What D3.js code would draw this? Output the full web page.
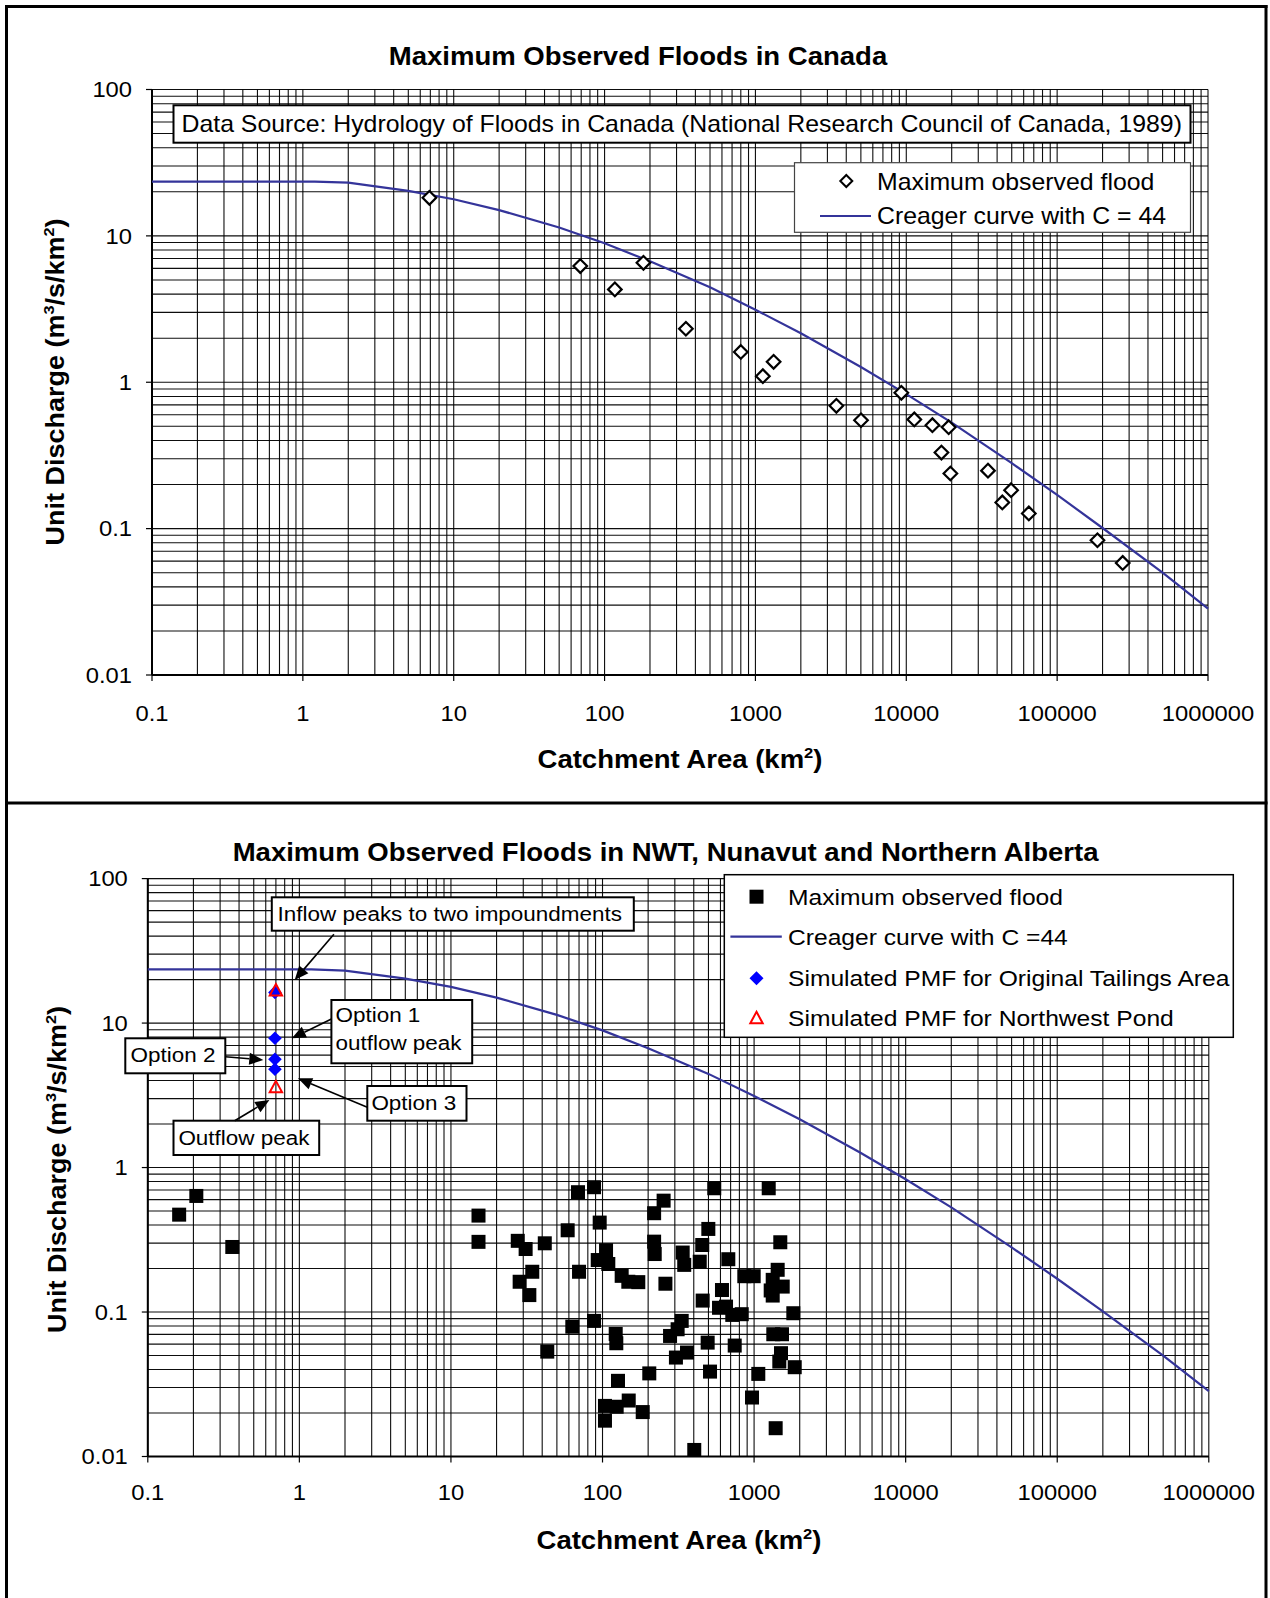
<!DOCTYPE html>
<html>
<head>
<meta charset="utf-8">
<script src="https://cdnjs.cloudflare.com/ajax/libs/d3/7.8.5/d3.min.js"></script>
<style>
    body { margin: 0; background: #fff; }
    text { font-family: "Liberation Sans", Arial, sans-serif; fill: #000; }
</style>
</head>
<body>
<div id="container"></div>
<script>
// values

// Creager curve with C = 44 (same curve on both panels)
var creagerArea = [0.1, 1.2, 2, 5, 10, 20, 50, 100, 200, 500, 1000, 2000, 5000, 10000, 20000, 50000, 100000, 200000, 500000, 1000000];
var creagerQ = [23.5, 23.5, 23.1, 20.3, 17.8, 15.0, 11.4, 8.9, 6.7, 4.45, 3.13, 2.16, 1.27, 0.83, 0.53, 0.28, 0.17, 0.101, 0.050, 0.0284];

// maximum observed floods in Canada
var canadaArea = [6.9, 69, 117, 181, 346, 800, 1120, 1320, 3440, 5010, 9270, 11300, 14900, 19100, 17100, 19600, 34800, 49500, 43300, 64900, 185000, 272000];
var canadaQ = [18.2, 6.22, 4.31, 6.55, 2.32, 1.61, 1.10, 1.38, 0.69, 0.55, 0.847, 0.557, 0.509, 0.493, 0.331, 0.238, 0.249, 0.183, 0.151, 0.127, 0.0833, 0.0583];

// maximum observed floods in NWT, Nunavut and Northern Alberta
var nwtArea = [0.161, 0.209, 0.361, 15.2, 15.2, 68.9, 87.9, 95.8, 58.9, 27.6, 31.1, 41.6, 105.5, 93.0, 109.2, 133.8, 148, 172.2, 34.4, 70.0,
    28.4, 32.9, 63.2, 87.9, 122.2, 123.3, 43.2, 126.5, 103.8, 124, 148.9, 103.8, 184.2, 203.5, 546, 1249, 253, 219, 499, 219,
    221, 338, 346, 455, 438, 676, 1489, 260, 862, 994, 1431, 1327, 1545, 1287, 1327, 614, 458, 587, 653, 718,
    829, 1815, 333, 313, 279, 494, 745, 1339, 1528, 1505, 1467, 1854, 361, 305, 512, 1066, 969, 1388, 403];
var nwtQ = [0.472, 0.636, 0.282, 0.465, 0.306, 0.675, 0.731, 0.416, 0.368, 0.311, 0.273, 0.299, 0.268, 0.229, 0.215, 0.178, 0.162, 0.161, 0.190, 0.190,
    0.162, 0.131, 0.0792, 0.0868, 0.0705, 0.0608, 0.0532, 0.0334, 0.0224, 0.0221, 0.0244, 0.0177, 0.0203, 0.0376, 0.719, 0.719, 0.590, 0.483, 0.376, 0.307,
    0.252, 0.258, 0.212, 0.291, 0.223, 0.232, 0.304, 0.157, 0.177, 0.177, 0.196, 0.167, 0.150, 0.141, 0.130, 0.142, 0.120, 0.107, 0.109, 0.0955,
    0.0966, 0.0981, 0.0868, 0.076, 0.0683, 0.0614, 0.0586, 0.0702, 0.0702, 0.0519, 0.0454, 0.0415, 0.0524, 0.0484, 0.0387, 0.0373, 0.0256, 0.0157, 0.0111];

// simulated PMF
var pmfOrigArea = [0.69, 0.69, 0.69, 0.69];
var pmfOrigQ = [16.3, 7.85, 5.62, 4.79];
var pmfPondArea = [0.70, 0.70];
var pmfPondQ = [16.8, 3.59];

// tick labels
var xTicks = [0.1, 1, 10, 100, 1000, 10000, 100000, 1000000];
var yTicks = [0.01, 0.1, 1, 10, 100];

var SX = 1.08;          // text in the picture is a little wide
var curveColor = "#34349a";

var svg = d3.select("#container").append("svg")
    .attr("width", 1270)
    .attr("height", 1598)
    .style("display", "block");

svg.append("rect").attr("width", 1270).attr("height", 1598).attr("fill", "#fff");

// text with horizontal stretch
function addText(g, x, y, size, weight, anchor) {
    return g.append("text")
        .attr("transform", "translate(" + x + "," + y + ") scale(" + SX + ",1)")
        .attr("text-anchor", anchor || "start")
        .style("font-size", size + "px")
        .style("font-weight", weight || "normal");
};

// text with superscripts, parts = [[text, isSup], ...]
function addParts(t, parts, size) {
    var shift = size * 0.4;
    var raised = false;
    parts.forEach(function(p) {
        var ts = t.append("tspan").text(p[0]);
        if (p[1]) {
            ts.attr("dy", -shift).style("font-size", (size * 0.6) + "px");
            raised = true;
        }
        else if (raised) {
            ts.attr("dy", shift);
            raised = false;
        };
    });
};

// draw grid, axes, tick labels, titles and the Creager curve of one panel
function drawPanel(p) {
    var g = svg.append("g");

    var x = d3.scaleLog().domain([0.1, 1000000]).range([p.left, p.right]);
    var y = d3.scaleLog().domain([0.01, 100]).range([p.bottom, p.top]);

    // minor and major grid
    var xGrid = [], yGrid = [];
    for (var d = -1; d < 6; d++) {
        for (var k = 1; k < 10; k++) xGrid.push(k * Math.pow(10, d));
    };
    xGrid.push(1000000);
    for (var e = -2; e < 2; e++) {
        for (var m = 1; m < 10; m++) yGrid.push(m * Math.pow(10, e));
    };
    yGrid.push(100);

    g.selectAll("line.vgrid")
        .data(xGrid)
        .enter().append("line")
        .attr("x1", function(v) { return x(v); })
        .attr("x2", function(v) { return x(v); })
        .attr("y1", p.top)
        .attr("y2", p.bottom)
        .attr("stroke", "#000")
        .attr("stroke-opacity", 0.95)
        .attr("stroke-width", 1.1);

    g.selectAll("line.hgrid")
        .data(yGrid)
        .enter().append("line")
        .attr("x1", p.left)
        .attr("x2", p.right)
        .attr("y1", function(v) { return y(v); })
        .attr("y2", function(v) { return y(v); })
        .attr("stroke", "#000")
        .attr("stroke-opacity", 0.95)
        .attr("stroke-width", 1.1);

    // axis lines and outside ticks
    g.append("line").attr("x1", p.left).attr("x2", p.right).attr("y1", p.bottom).attr("y2", p.bottom)
        .attr("stroke", "#000").attr("stroke-width", 2);
    g.append("line").attr("x1", p.left).attr("x2", p.left).attr("y1", p.top).attr("y2", p.bottom)
        .attr("stroke", "#000").attr("stroke-width", 2);

    g.selectAll("line.ytick")
        .data(yTicks)
        .enter().append("line")
        .attr("x1", p.left - 6).attr("x2", p.left)
        .attr("y1", function(v) { return y(v); })
        .attr("y2", function(v) { return y(v); })
        .attr("stroke", "#000").attr("stroke-width", 1.2);

    g.selectAll("line.xtick")
        .data(xTicks)
        .enter().append("line")
        .attr("x1", function(v) { return x(v); })
        .attr("x2", function(v) { return x(v); })
        .attr("y1", p.bottom).attr("y2", p.bottom + 6)
        .attr("stroke", "#000").attr("stroke-width", 1.2);

    // tick labels
    yTicks.forEach(function(v) {
        addText(g, p.left - 20, y(v), 22, "normal", "end").attr("dy", "0.35em").text(String(v));
    });
    xTicks.forEach(function(v) {
        addText(g, x(v), p.xLabelY, 22, "normal", "middle").text(v < 1 ? String(v) : d3.format("d")(v));
    });

    // titles
    addText(g, p.titleX, p.titleY, 25.5, "bold", "middle").text(p.title);

    var xt = addText(g, p.xTitleX, p.xTitleY, 25.5, "bold", "middle");
    addParts(xt, [["Catchment Area (km"], ["2", true], [")"]], 25.5);

    var yt = g.append("text")
        .attr("transform", "translate(" + p.yTitleX + "," + p.yTitleY + ") rotate(-90) scale(" + SX + ",1)")
        .attr("text-anchor", "middle")
        .style("font-size", "25px")
        .style("font-weight", "bold");
    addParts(yt, [["Unit Discharge (m"], ["3", true], ["/s/km"], ["2", true], [")"]], 25);

    // Creager curve
    var line = d3.line()
        .x(function(i) { return x(creagerArea[i]); })
        .y(function(i) { return y(creagerQ[i]); });

    g.append("path")
        .datum(d3.range(creagerArea.length))
        .attr("d", line)
        .attr("fill", "none")
        .attr("stroke", curveColor)
        .attr("stroke-width", 2.2);

    return { g: g, x: x, y: y };
};

function diamondPath(cx, cy, r) {
    return "M" + cx + "," + (cy - r) + "L" + (cx + r) + "," + cy + "L" + cx + "," + (cy + r) + "L" + (cx - r) + "," + cy + "Z";
};

function trianglePath(cx, cy, r) {
    return "M" + cx + "," + (cy - r) + "L" + (cx + r * 0.95) + "," + (cy + r * 0.75) + "L" + (cx - r * 0.95) + "," + (cy + r * 0.75) + "Z";
};

// arrow with filled head at (x2, y2)
function drawArrow(g, a) {
    var dx = a[2] - a[0], dy = a[3] - a[1];
    var len = Math.sqrt(dx * dx + dy * dy);
    var ux = dx / len, uy = dy / len, hl = 14, hw = 6;
    var bx = a[2] - ux * hl, by = a[3] - uy * hl;
    g.append("line").attr("x1", a[0]).attr("y1", a[1]).attr("x2", bx).attr("y2", by)
        .attr("stroke", "#000").attr("stroke-width", 1.6);
    g.append("path")
        .attr("d", "M" + a[2] + "," + a[3] + "L" + (bx - uy * hw) + "," + (by + ux * hw) + "L" + (bx + uy * hw) + "," + (by - ux * hw) + "Z")
        .attr("fill", "#000");
};

// outer frame
function drawFrame() {
    var f = svg.append("g").attr("stroke", "#000").attr("stroke-width", 3);
    f.append("line").attr("x1", 6.5).attr("x2", 6.5).attr("y1", 5).attr("y2", 1598);
    f.append("line").attr("x1", 1266).attr("x2", 1266).attr("y1", 5).attr("y2", 1598);
    f.append("line").attr("x1", 5).attr("x2", 1267.5).attr("y1", 6.5).attr("y2", 6.5);
    f.append("line").attr("x1", 5).attr("x2", 1267.5).attr("y1", 803).attr("y2", 803);
};

// top panel: Canada
function makeTopChart() {
    var c = drawPanel({
        left: 152, right: 1208, top: 89.5, bottom: 675,
        xLabelY: 720.5, title: "Maximum Observed Floods in Canada", titleX: 638, titleY: 65,
        xTitleX: 680, xTitleY: 768, yTitleX: 64, yTitleY: 382
    });
    var g = c.g;

    // data source box
    g.append("rect").attr("x", 173.5).attr("y", 105.3).attr("width", 1017).attr("height", 37.4)
        .attr("fill", "#fff").attr("stroke", "#000").attr("stroke-width", 2);
    addText(g, 181.5, 131.5, 23, "normal", "start")
        .text("Data Source: Hydrology of Floods in Canada (National Research Council of Canada, 1989)");

    // observed floods
    g.selectAll("path.flood")
        .data(d3.range(canadaArea.length))
        .enter().append("path")
        .attr("d", function(i) { return diamondPath(c.x(canadaArea[i]), c.y(canadaQ[i]), 6.8); })
        .attr("fill", "#fff")
        .attr("stroke", "#000")
        .attr("stroke-width", 2.2);

    // legend
    g.append("rect").attr("x", 794.5).attr("y", 162.7).attr("width", 396).attr("height", 69.6)
        .attr("fill", "#fff").attr("stroke", "#444").attr("stroke-width", 1.2);
    g.append("path").attr("d", diamondPath(846.3, 181, 6)).attr("fill", "#fff").attr("stroke", "#000").attr("stroke-width", 2);
    addText(g, 877, 189.5, 23, "normal", "start").text("Maximum observed flood");
    g.append("line").attr("x1", 820).attr("x2", 871).attr("y1", 216).attr("y2", 216)
        .attr("stroke", curveColor).attr("stroke-width", 2.2);
    addText(g, 877, 223.5, 23, "normal", "start").text("Creager curve with C = 44");
};

// bottom panel: NWT, Nunavut and Northern Alberta
function makeBottomChart() {
    var c = drawPanel({
        left: 147.8, right: 1208.8, top: 878.6, bottom: 1456.5,
        xLabelY: 1500, title: "Maximum Observed Floods in NWT, Nunavut and Northern Alberta", titleX: 665.6, titleY: 861,
        xTitleX: 679, xTitleY: 1549, yTitleX: 66, yTitleY: 1169.5
    });
    var g = c.g;

    // observed floods
    g.selectAll("rect.flood")
        .data(d3.range(nwtArea.length))
        .enter().append("rect")
        .attr("x", function(i) { return c.x(nwtArea[i]) - 7; })
        .attr("y", function(i) { return c.y(nwtQ[i]) - 7; })
        .attr("width", 14)
        .attr("height", 14)
        .attr("fill", "#000");

    // simulated PMF
    g.selectAll("path.orig")
        .data(d3.range(pmfOrigArea.length))
        .enter().append("path")
        .attr("d", function(i) { return diamondPath(c.x(pmfOrigArea[i]), c.y(pmfOrigQ[i]), 6.8); })
        .attr("fill", "#0000ff");

    g.selectAll("path.pond")
        .data(d3.range(pmfPondArea.length))
        .enter().append("path")
        .attr("d", function(i) { return trianglePath(c.x(pmfPondArea[i]), c.y(pmfPondQ[i]), 6.5); })
        .attr("fill", "none")
        .attr("stroke", "#ff0000")
        .attr("stroke-width", 2);

    // callouts: box [x, y, w, h], text lines with baselines, arrow [x1, y1, x2, y2]
    var callouts = [
        { box: [271.8, 897.3, 362, 33.4], tx: 277.6, lines: [["Inflow peaks to two impoundments", 920.5]], arrow: [333.9, 934.3, 294.7, 980] },
        { box: [331.4, 1000, 140.8, 63.3], tx: 335.5, lines: [["Option 1", 1022], ["outflow peak", 1050]], arrow: [331.4, 1019, 291.8, 1038.3] },
        { box: [125.3, 1038.3, 100, 35], tx: 130.6, lines: [["Option 2", 1062]], arrow: [225.3, 1056.7, 263.3, 1060] },
        { box: [367.3, 1086, 99.2, 34.7], tx: 371.4, lines: [["Option 3", 1110]], arrow: [367.3, 1107.3, 298, 1078.3] },
        { box: [173.5, 1120.7, 145.7, 34.3], tx: 178.4, lines: [["Outflow peak", 1145]], arrow: [234.7, 1120.7, 269.4, 1100] }
    ];
    callouts.forEach(function(o) {
        g.append("rect").attr("x", o.box[0]).attr("y", o.box[1]).attr("width", o.box[2]).attr("height", o.box[3])
            .attr("fill", "#fff").attr("stroke", "#000").attr("stroke-width", 2);
        o.lines.forEach(function(l) {
            addText(g, o.tx, l[1], 20.8, "normal", "start").text(l[0]);
        });
        drawArrow(g, o.arrow);
    });

    // legend
    g.append("rect").attr("x", 724.3).attr("y", 874.7).attr("width", 509).attr("height", 162.6)
        .attr("fill", "#fff").attr("stroke", "#000").attr("stroke-width", 1.5);
    g.append("rect").attr("x", 749.5).attr("y", 889.7).attr("width", 14).attr("height", 14).attr("fill", "#000");
    addText(g, 788, 904.7, 22.8, "normal", "start").text("Maximum observed flood");
    g.append("line").attr("x1", 730.4).attr("x2", 781.8).attr("y1", 936.7).attr("y2", 936.7)
        .attr("stroke", curveColor).attr("stroke-width", 2.2);
    addText(g, 788, 944.7, 22.8, "normal", "start").text("Creager curve with C =44");
    g.append("path").attr("d", diamondPath(756.5, 978.3, 7)).attr("fill", "#0000ff");
    addText(g, 788, 986.3, 22.8, "normal", "start").text("Simulated PMF for Original Tailings Area");
    g.append("path").attr("d", trianglePath(756.5, 1018.3, 6.5)).attr("fill", "none").attr("stroke", "#ff0000").attr("stroke-width", 2);
    addText(g, 788, 1026.3, 22.8, "normal", "start").text("Simulated PMF for Northwest Pond");
};

makeTopChart();
makeBottomChart();
drawFrame();
</script>
</body>
</html>
